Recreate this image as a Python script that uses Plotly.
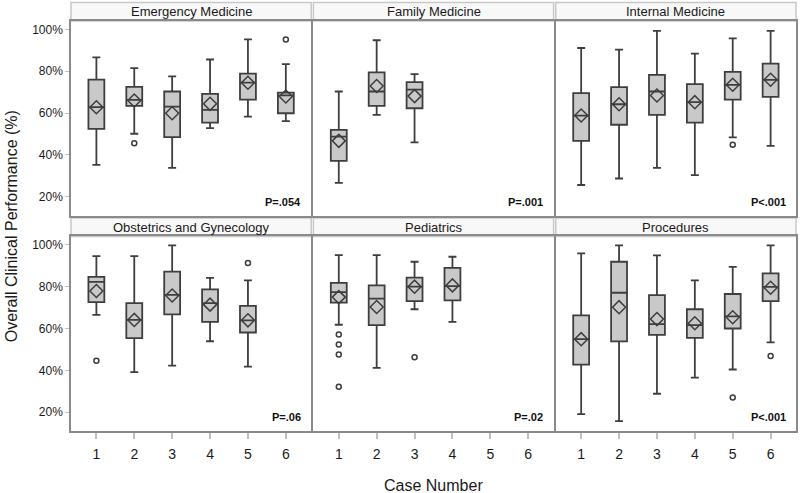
"""Clinical performance by case number, one box plot panel per clerkship."""

import plotly.graph_objects as go
from plotly.subplots import make_subplots

PANELS = [
    "Emergency Medicine", "Family Medicine", "Internal Medicine",
    "Obstetrics and Gynecology", "Pediatrics", "Procedures",
]
P_VALUES = ["P=.054", "P=.001", "P<.001", "P=.06", "P=.02", "P<.001"]
CASES = [1, 2, 3, 4, 5, 6]

# per panel: one value per case shown (percent)
UPPER = [
    [86.6, 81.5, 77.5, 85.6, 95.2, 83.4],
    [70.3, 94.8, 78.6],
    [91.1, 90.3, 99.3, 88.4, 95.7, 99.3],
    [94.6, 94.6, 99.7, 84.2, 83.0],
    [95.1, 95.1, 91.9, 94.3],
    [95.9, 99.7, 95.0, 83.0, 89.5, 99.7],
]
Q3 = [
    [76.0, 72.5, 70.3, 69.2, 78.8, 69.8],
    [52.0, 79.4, 74.8],
    [69.5, 72.4, 78.2, 73.8, 79.7, 83.6],
    [84.7, 72.1, 87.2, 78.7, 70.8],
    [81.8, 80.6, 84.3, 89.0],
    [66.3, 91.9, 76.0, 69.2, 76.5, 86.4],
]
MEDIAN = [
    [62.8, 66.3, 63.1, 61.5, 74.5, 68.4],
    [48.7, 70.3, 71.2],
    [58.8, 64.2, 70.3, 65.2, 73.5, 75.9],
    [82.3, 64.1, 76.1, 72.1, 63.9],
    [77.4, 74.3, 80.0, 80.3],
    [54.9, 77.1, 62.1, 61.6, 65.8, 79.9],
]
MEAN = [
    [62.8, 66.0, 59.9, 64.4, 74.5, 67.9],
    [46.7, 72.9, 68.1],
    [58.8, 64.2, 68.4, 65.2, 73.5, 75.9],
    [77.9, 64.1, 75.8, 71.4, 63.9],
    [75.0, 70.3, 80.0, 80.6],
    [54.9, 70.2, 64.5, 62.5, 65.4, 79.5],
]
Q1 = [
    [52.4, 63.4, 48.5, 55.4, 66.4, 59.9],
    [37.1, 63.4, 62.3],
    [46.7, 54.4, 59.1, 55.4, 66.4, 67.7],
    [72.6, 55.4, 66.8, 63.2, 58.1],
    [72.4, 61.6, 73.1, 73.4],
    [42.7, 53.8, 57.0, 55.5, 60.0, 73.1],
]
LOWER = [
    [35.2, 50.1, 33.8, 52.8, 58.3, 56.1],
    [26.6, 59.1, 46.0],
    [25.6, 28.7, 33.8, 30.3, 48.4, 44.3],
    [66.5, 39.1, 42.3, 53.9, 41.8],
    [61.8, 41.2, 69.2, 63.2],
    [19.1, 15.7, 28.8, 36.5, 40.4, 53.4],
]
OUTLIER_CASE = [
    [2, 6], [], [5], [1, 5], [1, 1, 1, 1, 3], [5, 6],
]
OUTLIER_VALUE = [
    [45.6, 95.2], [], [44.8], [44.6, 91.3], [57.1, 52.3, 47.6, 32.2, 46.3], [27.0, 46.8],
]

FONT = "Liberation Sans, Arial, sans-serif"
BOX_LINE = "#3e3e3e"

fig = make_subplots(rows=2, cols=3, horizontal_spacing=0.003, vertical_spacing=0.051)

for i, name in enumerate(PANELS):
    row, col = i // 3 + 1, i % 3 + 1
    sfx = str(i + 1) if i else ""
    xs = CASES[:len(MEDIAN[i])]
    fig.add_trace(
        go.Box(
            x=xs,
            q1=Q1[i],
            median=MEDIAN[i],
            q3=Q3[i],
            lowerfence=LOWER[i],
            upperfence=UPPER[i],
            width=0.42,
            whiskerwidth=0.5,
            fillcolor="#c9c9c9",
            line=dict(color=BOX_LINE, width=1.8),
            boxpoints=False,
            hoverinfo="skip",
        ),
        row=row, col=col,
    )
    fig.add_trace(
        go.Scatter(
            x=xs,
            y=MEAN[i],
            mode="markers",
            marker=dict(symbol="diamond-open", size=10, color=BOX_LINE, line=dict(width=1.5)),
        ),
        row=row, col=col,
    )
    if OUTLIER_CASE[i]:
        fig.add_trace(
            go.Scatter(
                x=OUTLIER_CASE[i],
                y=OUTLIER_VALUE[i],
                mode="markers",
                marker=dict(symbol="circle-open", size=5, color=BOX_LINE, line=dict(width=1.5)),
            ),
            row=row, col=col,
        )

    # strip header above each panel
    xd = fig.layout["xaxis" + sfx].domain
    yd = fig.layout["yaxis" + sfx].domain
    fig.add_shape(
        type="rect", xref="paper", yref="paper",
        x0=xd[0], x1=xd[1], y0=yd[1], y1=yd[1] + 0.045,
        fillcolor="#f8f8f8", line=dict(color="#c8c8c8", width=1.5),
        layer="below",
    )
    fig.add_annotation(
        x=(xd[0] + xd[1]) / 2, y=yd[1] + 0.0225, xref="paper", yref="paper",
        text=name, showarrow=False, font=dict(size=13, color="#1a1a1a"),
        xanchor="center", yanchor="middle",
    )
    fig.add_annotation(
        x=0.965, y=0.03, xref=f"x{sfx} domain", yref=f"y{sfx} domain",
        text=f"<b>{P_VALUES[i]}</b>", showarrow=False, font=dict(size=11, color="#111"),
        xanchor="right", yanchor="bottom",
    )

fig.update_xaxes(
    range=[0.33, 6.67], tickvals=CASES, showgrid=False, zeroline=False,
    showline=True, mirror=True, linecolor="#8a8a8a", linewidth=1.5,
    tickfont=dict(size=14, color="#1a1a1a"),
)
fig.update_xaxes(showticklabels=False, ticks="", row=1)
fig.update_xaxes(ticks="outside", ticklen=6, tickwidth=1.5, tickcolor="#c0c0c0",
                 ticklabelstandoff=3, row=2)

fig.update_yaxes(
    range=[11, 104], tickvals=[20, 40, 60, 80, 100],
    ticktext=["20%", "40%", "60%", "80%", "100%"],
    showgrid=False, zeroline=False,
    showline=True, mirror=True, linecolor="#8a8a8a", linewidth=1.5,
    tickfont=dict(size=12, color="#1a1a1a"),
)
fig.update_yaxes(ticks="outside", ticklen=4, tickwidth=1, tickcolor="#c0c0c0", col=1)
fig.update_yaxes(showticklabels=False, ticks="", col=2)
fig.update_yaxes(showticklabels=False, ticks="", col=3)

fig.add_annotation(
    x=-0.097, y=0.5, xref="paper", yref="paper", text="Overall Clinical Performance (%)",
    textangle=-90, showarrow=False, font=dict(size=16, color="#1a1a1a"),
)
fig.add_annotation(
    x=0.5, y=-0.132, xref="paper", yref="paper", text="Case Number",
    showarrow=False, font=dict(size=16, color="#1a1a1a"), yanchor="middle",
)

fig.update_layout(
    width=800, height=493,
    margin=dict(l=71, r=2, t=21, b=62),
    showlegend=False,
    plot_bgcolor="white", paper_bgcolor="white",
    font=dict(family=FONT),
)

fig.write_html(
    "out.html",
    config={"displayModeBar": False},
    post_script="document.body.style.margin = '0';",
)
